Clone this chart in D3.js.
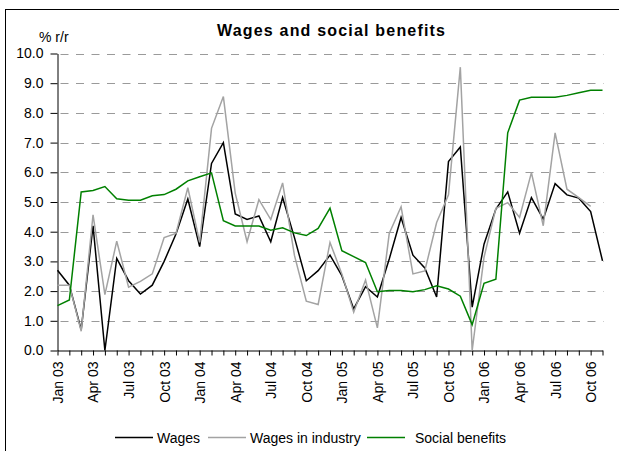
<!DOCTYPE html>
<html>
<head>
<meta charset="utf-8">
<script src="https://cdn.jsdelivr.net/npm/d3@7/dist/d3.min.js"></script>
<style>
  html, body { margin: 0; padding: 0; background: #fff; }
  svg { display: block; font-family: Arial, "Liberation Sans", sans-serif; }
</style>
</head>
<body>
<svg id="chart" width="619" height="451"></svg>
<script>
// Monthly categories, Jan 2003 – Nov 2006
const months = [
  "Jan 03","Feb 03","Mar 03","Apr 03","May 03","Jun 03","Jul 03","Aug 03","Sep 03","Oct 03","Nov 03","Dec 03",
  "Jan 04","Feb 04","Mar 04","Apr 04","May 04","Jun 04","Jul 04","Aug 04","Sep 04","Oct 04","Nov 04","Dec 04",
  "Jan 05","Feb 05","Mar 05","Apr 05","May 05","Jun 05","Jul 05","Aug 05","Sep 05","Oct 05","Nov 05","Dec 05",
  "Jan 06","Feb 06","Mar 06","Apr 06","May 06","Jun 06","Jul 06","Aug 06","Sep 06","Oct 06","Nov 06"
];

// Year-on-year growth, %
const wages = [
  2.7, 2.2, 0.7, 4.2, 0.0, 3.1, 2.35, 1.9, 2.2, 3.0, 3.92, 5.1,
  3.5, 6.3, 7.0, 4.6, 4.41, 4.53, 3.66, 5.15, 3.8, 2.35, 2.69, 3.21,
  2.52, 1.4, 2.15, 1.8, 3.08, 4.48, 3.21, 2.78, 1.8, 6.36, 6.85, 1.46,
  3.58, 4.76, 5.34, 3.95, 5.15, 4.42, 5.62, 5.24, 5.13, 4.68, 3.02
];
const wagesIndustry = [
  2.2, 2.2, 0.65, 4.57, 1.88, 3.68, 2.13, 2.33, 2.58, 3.8, 3.94, 5.48,
  3.64, 7.48, 8.55, 5.3, 3.66, 5.08, 4.41, 5.64, 3.2, 1.66, 1.55, 3.64,
  2.58, 1.29, 2.37, 0.76, 3.94, 4.84, 2.58, 2.68, 4.31, 5.24, 9.54, 0.0,
  3.14, 4.79, 4.98, 4.48, 5.99, 4.2, 7.33, 5.43, 5.15, 4.85, null
];
const socialBenefits = [
  1.51, 1.7, 5.34, 5.39, 5.52, 5.11, 5.06, 5.06, 5.21, 5.25, 5.43, 5.71,
  5.85, 5.98, 4.37, 4.19, 4.19, 4.19, 4.05, 4.13, 3.96, 3.87, 4.11, 4.79,
  3.36, 3.16, 2.96, 1.98, 2.02, 2.02, 1.98, 2.05, 2.18, 2.07, 1.83, 0.87,
  2.26, 2.4, 7.33, 8.43, 8.53, 8.53, 8.53, 8.59, 8.68, 8.76, 8.76
];

const yTicks = [0, 1, 2, 3, 4, 5, 6, 7, 8, 9, 10];
const labelMonths = ["Jan", "Apr", "Jul", "Oct"];

const series = [
  { name: "Wages", values: wages, color: "#000000" },
  { name: "Wages in industry", values: wagesIndustry, color: "#a3a3a3" },
  { name: "Social benefits", values: socialBenefits, color: "#008000" }
];

const svg = d3.select("#chart");

// outer frame
svg.append("rect")
  .attr("x", 5.5).attr("y", 9.5)
  .attr("width", 700).attr("height", 600)
  .attr("fill", "none").attr("stroke", "#000").attr("stroke-width", 1);

const x = d3.scalePoint().domain(d3.range(months.length)).range([57.5, 602.5]);
const y = d3.scaleLinear().domain([0, 10]).range([350.5, 53.5]);

// title
svg.append("text")
  .attr("x", 331).attr("y", 36)
  .attr("text-anchor", "middle")
  .attr("font-size", 16).attr("font-weight", "bold")
  .attr("textLength", 228).attr("lengthAdjust", "spacing")
  .text("Wages and social benefits");

// unit label
svg.append("text")
  .attr("x", 39).attr("y", 42)
  .attr("font-size", 14)
  .text("% r/r");

// horizontal dashed gridlines
svg.append("g")
  .selectAll("line")
  .data(yTicks.filter(d => d > 0))
  .join("line")
  .attr("x1", x(0)).attr("x2", x(months.length - 1) + 1)
  .attr("y1", d => Math.round(y(d)) + 0.5).attr("y2", d => Math.round(y(d)) + 0.5)
  .attr("stroke", "#9a9a9a").attr("stroke-width", 1)
  .attr("stroke-dasharray", "8,7.5")
  .attr("stroke-dashoffset", -3);

// y axis
const yAxis = svg.append("g")
  .attr("transform", `translate(${x(0)},0)`)
  .call(d3.axisLeft(y).tickValues(yTicks).tickFormat(d3.format(".1f")).tickSize(7).tickSizeOuter(0).tickPadding(7));
yAxis.selectAll("text").attr("font-size", 14).attr("fill", "#000").attr("font-family", "Arial, 'Liberation Sans', sans-serif");
yAxis.selectAll("line, path").attr("stroke", "#000");

// x axis
const xAxis = svg.append("g")
  .attr("transform", `translate(0,${y(0)})`)
  .call(d3.axisBottom(x).tickSize(5).tickSizeOuter(0)
    .tickFormat(i => labelMonths.includes(months[i].slice(0, 3)) ? months[i] : ""));
xAxis.selectAll("line, path").attr("stroke", "#000");
xAxis.selectAll("text")
  .attr("font-size", 14).attr("fill", "#000")
  .attr("font-family", "Arial, 'Liberation Sans', sans-serif")
  .attr("text-anchor", "end")
  .attr("transform", "rotate(-90)")
  .attr("x", -11).attr("y", 0).attr("dy", "0.35em");

// series lines
const plot = svg.append("g");
series.forEach(s => {
  const line = d3.line()
    .defined(d => d != null)
    .x((d, i) => x(i))
    .y(d => y(d));
  plot.append("path")
    .datum(s.values)
    .attr("d", line)
    .attr("fill", "none")
    .attr("stroke", s.color)
    .attr("stroke-width", 1.5)
    .attr("stroke-linejoin", "miter");
});

// legend
const legendItems = [
  { s: series[0], lx: 115, tx: 157 },
  { s: series[1], lx: 208, tx: 250 },
  { s: series[2], lx: 367, tx: 415 }
];
const legend = svg.append("g");
legendItems.forEach(it => {
  legend.append("line")
    .attr("x1", it.lx).attr("x2", it.lx + 38)
    .attr("y1", 437.5).attr("y2", 437.5)
    .attr("stroke", it.s.color).attr("stroke-width", 1.5);
  legend.append("text")
    .attr("x", it.tx).attr("y", 442.5)
    .attr("font-size", 14)
    .text(it.s.name);
});
</script>
</body>
</html>
